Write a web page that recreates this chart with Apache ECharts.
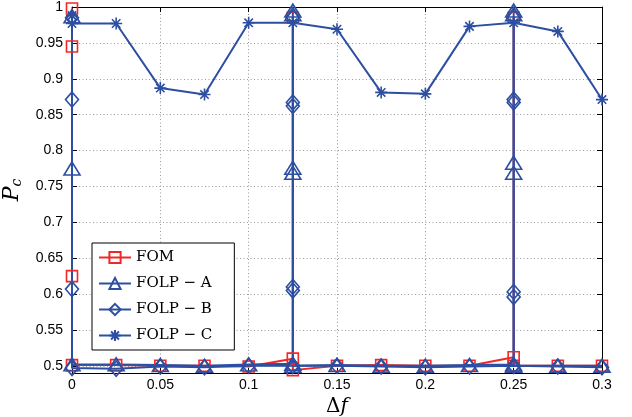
<!DOCTYPE html>
<html>
<head>
<meta charset="utf-8">
<script src="https://cdn.jsdelivr.net/npm/echarts@6/dist/echarts.min.js"></script>
<style>
html, body { margin: 0; padding: 0; background: #fff; }
#chart { width: 632px; height: 417px; }
</style>
</head>
<body>
<div id="chart"></div>
<script>
// tick labels
var xTicks = [0, 0.05, 0.1, 0.15, 0.2, 0.25, 0.3];
var yTicks = [0.5, 0.55, 0.6, 0.65, 0.7, 0.75, 0.8, 0.85, 0.9, 0.95, 1];

// series, [delta f, Pc] (duplicate x = vertical jumps at 0, 0.125, 0.25)
var fomPoints = [
    [0, 0.998], [0, 0.945], [0, 0.625], [0, 0.501], [0.025, 0.501], [0.05, 0.5],
    [0.075, 0.5], [0.1, 0.499], [0.125, 0.51], [0.125, 0.985], [0.125, 0.494],
    [0.15, 0.5], [0.175, 0.501], [0.2, 0.5], [0.225, 0.5], [0.25, 0.512],
    [0.25, 0.985], [0.25, 0.5], [0.275, 0.5], [0.3, 0.5]
];
var folpAPoints = [
    [0, 0.987], [0, 0.775], [0, 0.502], [0.025, 0.502], [0.05, 0.501], [0.075, 0.5],
    [0.1, 0.502], [0.125, 0.503], [0.125, 0.769], [0.125, 0.776], [0.125, 0.99],
    [0.125, 0.995], [0.125, 0.5], [0.15, 0.501], [0.175, 0.5], [0.2, 0.5],
    [0.225, 0.501], [0.25, 0.502], [0.25, 0.769], [0.25, 0.783], [0.25, 0.99],
    [0.25, 0.995], [0.25, 0.5], [0.275, 0.5], [0.3, 0.5]
];
var folpBPoints = [
    [0, 0.985], [0, 0.871], [0, 0.607], [0, 0.497], [0.025, 0.496], [0.05, 0.499],
    [0.075, 0.498], [0.1, 0.5], [0.125, 0.5], [0.125, 0.605], [0.125, 0.61],
    [0.125, 0.862], [0.125, 0.867], [0.125, 0.985], [0.125, 0.5], [0.15, 0.5],
    [0.175, 0.499], [0.2, 0.498], [0.225, 0.499], [0.25, 0.5], [0.25, 0.596],
    [0.25, 0.603], [0.25, 0.867], [0.25, 0.871], [0.25, 0.985], [0.25, 0.5],
    [0.275, 0.499], [0.3, 0.498]
];
var folpCPoints = [
    [0, 0.988], [0, 0.977], [0.025, 0.977], [0.05, 0.887], [0.075, 0.878],
    [0.1, 0.978], [0.125, 0.978], [0.15, 0.969], [0.175, 0.881], [0.2, 0.879],
    [0.225, 0.973], [0.25, 0.978], [0.275, 0.966], [0.3, 0.871]
];

var RED = '#f02828';
var BLUE = '#2d4fa1';
var ASTERISK = 'path://M0,-10L0,10M-10,0L10,0M-7,-7L7,7M-7,7L7,-7';

function makeSeries(name, points, color, symbol, size) {
    return {
        name: name,
        type: 'line',
        data: points,
        symbol: symbol,
        symbolSize: size,
        clip: false,
        lineStyle: { color: color, width: 2 },
        itemStyle: { color: 'rgba(0,0,0,0)', borderColor: color, borderWidth: 1.6 },
        emphasis: { disabled: true }
    };
}

var chart = echarts.init(document.getElementById('chart'));

var tickLabel = { fontFamily: 'Liberation Sans', fontSize: 14, color: '#000' };
var gridLine = { show: true, lineStyle: { color: '#9a9a9a', width: 1, type: [1, 2.5] } };
var boxLine = { show: true, onZero: false, lineStyle: { color: '#000', width: 1 } };
var inTick = { show: true, inside: true, length: 5, lineStyle: { color: '#000' } };

chart.setOption({
    animation: false,
    backgroundColor: '#fff',
    grid: { left: 72, right: 30, top: 7, bottom: 44, outerBoundsMode: 'none' },
    legend: {
        orient: 'vertical',
        left: 92,
        top: 243,
        padding: [7, 22, 7, 6],
        itemGap: 11,
        itemWidth: 32,
        itemHeight: 14,
        backgroundColor: '#fff',
        borderColor: '#000',
        borderWidth: 1,
        textStyle: { fontFamily: 'DejaVu Serif', fontSize: 15, color: '#000', lineHeight: 14 },
        data: ['FOM', 'FOLP − A', 'FOLP − B', 'FOLP − C']
    },
    xAxis: [{
        type: 'value',
        min: 0,
        max: 0.3,
        interval: 0.05,
        axisLine: boxLine,
        axisTick: inTick,
        axisLabel: Object.assign({ margin: 5, formatter: function (v) {
            return xTicks.indexOf(+v.toFixed(3)) >= 0 ? String(+v.toFixed(3)) : '';
        } }, tickLabel),
        splitLine: gridLine,
        name: 'Δ{i|f}',
        nameLocation: 'middle',
        nameGap: 14,
        nameTextStyle: {
            fontFamily: 'DejaVu Serif', fontSize: 20, color: '#000',
            rich: { i: { fontFamily: 'DejaVu Serif', fontStyle: 'italic', fontSize: 20 } }
        }
    }, {
        type: 'value',
        position: 'top',
        min: 0,
        max: 0.3,
        interval: 0.05,
        axisLine: boxLine,
        axisTick: inTick,
        axisLabel: { show: false },
        splitLine: { show: false }
    }],
    yAxis: [{
        type: 'value',
        min: 0.49,
        max: 1,
        axisLine: boxLine,
        axisTick: Object.assign({ customValues: yTicks }, inTick),
        axisLabel: Object.assign({ margin: 9, customValues: yTicks }, tickLabel),
        splitLine: gridLine,
        name: '{p|P}{c|c}',
        nameLocation: 'middle',
        nameRotate: 90,
        nameGap: 36,
        nameTextStyle: {
            color: '#000',
            rich: {
                p: { fontFamily: 'DejaVu Serif', fontStyle: 'italic', fontSize: 22 },
                c: { fontFamily: 'DejaVu Serif', fontStyle: 'italic', fontSize: 14, padding: [11, 0, 0, 0] }
            }
        }
    }, {
        type: 'value',
        position: 'right',
        min: 0.49,
        max: 1,
        axisLine: boxLine,
        axisTick: Object.assign({ customValues: yTicks }, inTick),
        axisLabel: { show: false, customValues: yTicks },
        splitLine: { show: false }
    }],
    series: [
        makeSeries('FOM', fomPoints, RED, 'rect', 11),
        makeSeries('FOLP − A', folpAPoints, BLUE, 'triangle', [16, 13]),
        makeSeries('FOLP − B', folpBPoints, BLUE, 'diamond', [13, 15]),
        makeSeries('FOLP − C', folpCPoints, BLUE, ASTERISK, 12)
    ]
});
</script>
</body>
</html>
